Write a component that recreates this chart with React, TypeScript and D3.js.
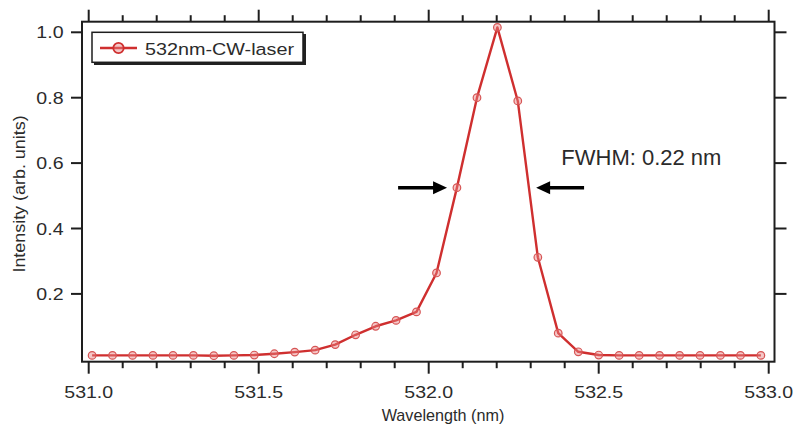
import React from "react";
import * as d3 from "d3";

// Spectrum of the 532 nm CW laser line
const wavelength = [
  531.010, 531.070, 531.129, 531.189, 531.248, 531.308, 531.368, 531.427,
  531.487, 531.546, 531.606, 531.666, 531.725, 531.785, 531.844, 531.904,
  531.964, 532.023, 532.083, 532.142, 532.202, 532.262, 532.321, 532.381,
  532.440, 532.500, 532.560, 532.619, 532.679, 532.738, 532.798, 532.858,
  532.917, 532.977,
];
const intensity = [
  0.012, 0.012, 0.012, 0.012, 0.012, 0.012, 0.011, 0.012,
  0.013, 0.017, 0.022, 0.028, 0.045, 0.075, 0.101, 0.119,
  0.145, 0.264, 0.525, 0.800, 1.015, 0.790, 0.312, 0.080,
  0.023, 0.013, 0.012, 0.012, 0.012, 0.012, 0.012, 0.012,
  0.012, 0.012,
];
const seriesName = "532nm-CW-laser";
const xMajorTicks = [531.0, 531.5, 532.0, 532.5, 533.0];
const yTicks = [0.2, 0.4, 0.6, 0.8, 1.0];
const fwhmLabel = "FWHM: 0.22 nm";
// half-maximum arrows: [tail, tip] wavelengths and their height
const leftArrow = [531.91, 532.054];
const rightArrow = [532.457, 532.316];
const arrowLevel = 0.525;
const fwhmTextPos = [532.39, 0.594];

const W = 796;
const H = 428;
const frame = { left: 82, right: 774.5, top: 21.7, bottom: 361.7 };

const FONT = "'Liberation Sans', Arial, Helvetica, sans-serif";
const RED = "#cf2f2f";
const AXIS = "#1e1e1e";
const TEXT = "#2b2b2b";

export default function App() {
  const x = d3.scaleLinear().domain([531, 533]).range([88.7, 768.7]);
  const y = d3.scaleLinear().domain([0, 1]).range([359.3, 32.3]);

  const minorTicks = x.ticks(20);
  const isMajor = (v: number) => xMajorTicks.some((m) => Math.abs(m - v) < 1e-6);

  const line = d3
    .line<number>()
    .x((_, i) => x(wavelength[i]))
    .y((d) => y(d));

  const arrow = (tail: number, tip: number, level: number) => {
    const x0 = x(tail);
    const x1 = x(tip);
    const yy = y(level);
    const dir = Math.sign(x1 - x0);
    const headLen = 14;
    const headHalf = 6.5;
    const base = x1 - dir * headLen;
    return (
      <g>
        <line x1={x0} y1={yy} x2={base + dir * 2} y2={yy} stroke="#000" strokeWidth={3.5} />
        <path
          d={`M${x1},${yy} L${base},${yy - headHalf} L${base},${yy + headHalf} Z`}
          fill="#000"
        />
      </g>
    );
  };

  return (
    <svg
      width={W}
      height={H}
      style={{ position: "absolute", left: 0, top: 0, background: "#fff" }}
      fontFamily={FONT}
    >
      <rect x={0} y={0} width={W} height={H} fill="#fff" />

      {/* data line and markers */}
      <path d={line(intensity) || ""} fill="none" stroke={RED} strokeWidth={2.4} strokeLinejoin="round" />
      {intensity.map((v, i) => (
        <circle
          key={i}
          cx={x(wavelength[i])}
          cy={y(v)}
          r={3.8}
          fill="rgba(232,130,130,0.45)"
          stroke="#d65555"
          strokeWidth={1.2}
        />
      ))}

      {/* frame */}
      <rect
        x={frame.left}
        y={frame.top}
        width={frame.right - frame.left}
        height={frame.bottom - frame.top}
        fill="none"
        stroke={AXIS}
        strokeWidth={2}
      />

      {/* bottom and top ticks */}
      {minorTicks.map((t, i) => {
        const len = isMajor(t) ? 12 : 6.5;
        const xx = x(t);
        return (
          <g key={i}>
            <line x1={xx} x2={xx} y1={frame.bottom} y2={frame.bottom + len} stroke={AXIS} strokeWidth={2} />
            <line x1={xx} x2={xx} y1={frame.top} y2={frame.top - len} stroke={AXIS} strokeWidth={2} />
          </g>
        );
      })}
      {xMajorTicks.map((t, i) => (
        <text
          key={i}
          transform={`translate(${x(t)},398) scale(1.15,1)`}
          textAnchor="middle"
          fontSize={17}
          fill={TEXT}
        >
          {t.toFixed(1)}
        </text>
      ))}

      {/* left and right ticks */}
      {yTicks.map((t, i) => (
        <g key={i}>
          <line x1={frame.left} x2={frame.left - 11} y1={y(t)} y2={y(t)} stroke={AXIS} strokeWidth={2} />
          <line x1={frame.right} x2={frame.right + 12} y1={y(t)} y2={y(t)} stroke={AXIS} strokeWidth={2} />
          <text
            transform={`translate(63.5,${y(t) + 6}) scale(1.15,1)`}
            textAnchor="end"
            fontSize={17}
            fill={TEXT}
          >
            {t.toFixed(1)}
          </text>
        </g>
      ))}

      {/* axis titles */}
      <text x={443} y={421} textAnchor="middle" fontSize={16.2} fill={TEXT}>
        Wavelength (nm)
      </text>
      <text
        transform={`translate(25,194) rotate(-90) scale(1.12,1)`}
        textAnchor="middle"
        fontSize={16}
        fill={TEXT}
      >
        Intensity (arb. units)
      </text>

      {/* legend */}
      <rect x={94} y={34} width={212} height={31} fill="#222" />
      <rect x={92} y={32.3} width={211} height={30} fill="#fff" stroke={AXIS} strokeWidth={1.5} />
      <line x1={100} x2={137} y1={48} y2={48} stroke={RED} strokeWidth={2.6} />
      <circle cx={118.5} cy={48} r={5.2} fill="rgba(232,130,130,0.45)" stroke={RED} strokeWidth={1.8} />
      <text transform="translate(145,54.5) scale(1.15,1)" fontSize={17.2} fill={TEXT}>
        {seriesName}
      </text>

      {/* FWHM annotation */}
      {arrow(leftArrow[0], leftArrow[1], arrowLevel)}
      {arrow(rightArrow[0], rightArrow[1], arrowLevel)}
      <text x={x(fwhmTextPos[0])} y={y(fwhmTextPos[1])} fontSize={22} fill={TEXT}>
        {fwhmLabel}
      </text>
    </svg>
  );
}
